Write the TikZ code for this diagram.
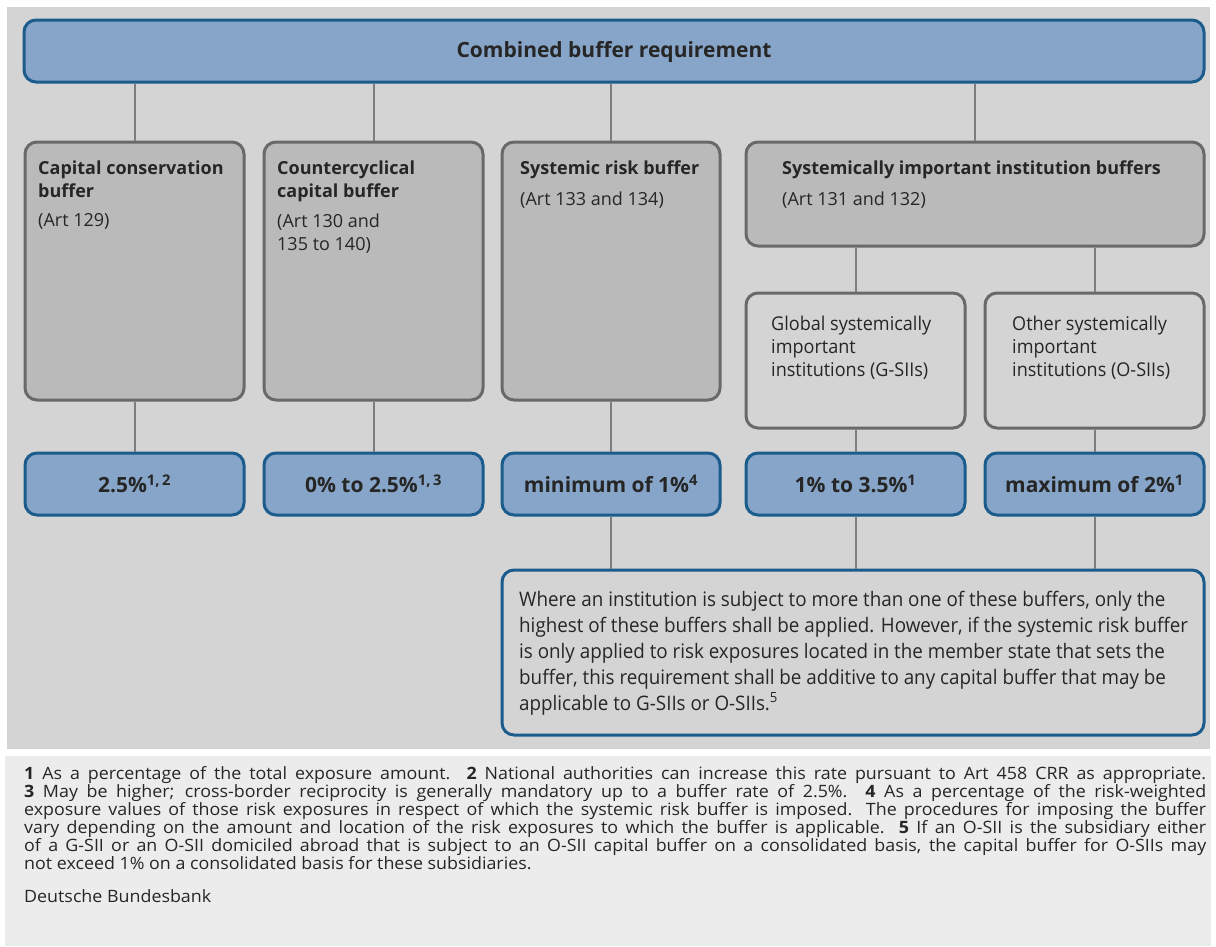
\documentclass[tikz,border=0pt]{standalone}
\usepackage{fontspec}
\setmainfont{Open Sans}
\newfontfamily\condfont[FakeStretch=0.95]{Open Sans}
\newfontfamily\notefont[FakeStretch=0.94]{Open Sans}
\newfontfamily\footfont[FakeStretch=1.05]{Open Sans}
\definecolor{bbBlue}{RGB}{134,165,200}
\definecolor{bbBlueDark}{RGB}{27,92,140}
\definecolor{boxGray}{RGB}{186,186,186}
\definecolor{boxGrayDark}{RGB}{105,105,105}
\definecolor{panelGray}{RGB}{212,212,212}
\definecolor{noteGray}{RGB}{236,236,236}
\definecolor{lineGray}{RGB}{125,125,125}
\definecolor{textDark}{RGB}{38,38,38}

\begin{document}
\begin{tikzpicture}[x = 1pt, y = -1pt, font=\fontsize{16}{20}\selectfont, text = textDark]
	\tikzstyle{blueStyle} = [draw = bbBlueDark, fill = bbBlue, line width = 3pt, rounded corners = 12pt, inner sep = 0pt]
	\tikzstyle{grayStyle} = [draw = boxGrayDark, fill = boxGray, line width = 3pt, rounded corners = 12pt, inner sep = 0pt]
	\tikzstyle{subStyle} = [draw = boxGrayDark, fill = panelGray, line width = 3pt, rounded corners = 12pt, inner sep = 0pt]
	\tikzstyle{noteStyle} = [draw = bbBlueDark, fill = panelGray, line width = 3pt, rounded corners = 12pt, inner sep = 0pt]
	\tikzstyle{lineStyle} = [draw = lineGray, line width = 2pt]
	\tikzstyle{headStyle} = [anchor = north west, inner sep = 0pt, align = left, font = \fontsize{18}{23}\selectfont]
	\tikzstyle{rateStyle} = [font = \fontsize{21}{24}\selectfont\bfseries]
	\tikzstyle{condStyle} = [anchor = north west, inner sep = 0pt, align = left, font = \condfont\fontsize{19}{23}\selectfont]
	\useasboundingbox (0,0) rectangle (1216,946);
	\fill[panelGray] (7,7) rectangle (1210,749);
	\fill[noteGray] (5,756) rectangle (1211,946);
	% top level
	\node[blueStyle, minimum width = 1180pt, minimum height = 62pt] (top) at (614,51) {};
	\node[font = \fontsize{21}{24}\selectfont\bfseries] (topText) at (614,52) {Combined buffer requirement};
	% buffers
	\node[grayStyle, minimum width = 219pt, minimum height = 258pt] (ccb) at (134.5,271) {};
	\node[grayStyle, minimum width = 219pt, minimum height = 258pt] (ccyb) at (373.5,271) {};
	\node[grayStyle, minimum width = 218pt, minimum height = 258pt] (srb) at (611,271) {};
	\node[grayStyle, minimum width = 458pt, minimum height = 104pt] (sii) at (975,194) {};
	\node[headStyle] (ccbText) at (38,161) {\textbf{Capital conservation}\\\textbf{buffer}\\[6pt](Art 129)};
	\node[headStyle] (ccybText) at (277,161) {\textbf{Countercyclical}\\\textbf{capital buffer}\\[7pt](Art 130 and\\135 to 140)};
	\node[headStyle] (srbText) at (520,161) {\textbf{Systemic risk buffer}\\[8pt](Art 133 and 134)};
	\node[headStyle] (siiText) at (782,161) {\textbf{Systemically important institution buffers}\\[8pt](Art 131 and 132)};
	% institutions
	\node[subStyle, minimum width = 219pt, minimum height = 135pt] (gsii) at (855.5,360.5) {};
	\node[subStyle, minimum width = 219pt, minimum height = 135pt] (osii) at (1094.5,360.5) {};
	\node[condStyle] (gsiiText) at (771,316) {Global systemically\\important\\institutions (G-SIIs)};
	\node[condStyle] (osiiText) at (1012,316) {Other systemically\\important\\institutions (O-SIIs)};
	% rates
	\node[blueStyle, minimum width = 219pt, minimum height = 62pt] (p1) at (134.5,484) {};
	\node[blueStyle, minimum width = 219pt, minimum height = 62pt] (p2) at (373.5,484) {};
	\node[blueStyle, minimum width = 218pt, minimum height = 62pt] (p3) at (611,484) {};
	\node[blueStyle, minimum width = 219pt, minimum height = 62pt] (p4) at (855.5,484) {};
	\node[blueStyle, minimum width = 219pt, minimum height = 62pt] (p5) at (1094.5,484) {};
	\node[rateStyle] (p1Text) at (p1) {2.5\%\textsuperscript{1,\,2}};
	\node[rateStyle] (p2Text) at (p2) {0\% to 2.5\%\textsuperscript{1,\,3}};
	\node[rateStyle] (p3Text) at (p3) {minimum of 1\%\textsuperscript{4}};
	\node[rateStyle] (p4Text) at (p4) {1\% to 3.5\%\textsuperscript{1}};
	\node[rateStyle] (p5Text) at (p5) {maximum of 2\%\textsuperscript{1}};
	% note
	\node[noteStyle, minimum width = 702pt, minimum height = 165pt] (note) at (853,652.5) {};
	\node[anchor = north west, inner sep = 0pt, align = left, font = \notefont\fontsize{20}{26}\selectfont] (noteText) at (519,591) {Where an institution is subject to more than one of these buffers, only the\\highest of these buffers shall be applied. However, if the systemic risk buffer\\is only applied to risk exposures located in the member state that sets the\\buffer, this requirement shall be additive to any capital buffer that may be\\applicable to G-SIIs or O-SIIs.\textsuperscript{5}};
	% connectors
	\draw[lineStyle] (top.south -| ccb.north) -- (ccb.north);
	\draw[lineStyle] (top.south -| ccyb.north) -- (ccyb.north);
	\draw[lineStyle] (top.south -| srb.north) -- (srb.north);
	\draw[lineStyle] (top.south -| sii.north) -- (sii.north);
	\draw[lineStyle] (sii.south -| gsii.north) -- (gsii.north);
	\draw[lineStyle] (sii.south -| osii.north) -- (osii.north);
	\draw[lineStyle] (ccb.south) -- (p1.north);
	\draw[lineStyle] (ccyb.south) -- (p2.north);
	\draw[lineStyle] (srb.south) -- (p3.north);
	\draw[lineStyle] (gsii.south) -- (p4.north);
	\draw[lineStyle] (osii.south) -- (p5.north);
	\draw[lineStyle] (p3.south) -- (p3.south |- note.north);
	\draw[lineStyle] (p4.south) -- (p4.south |- note.north);
	\draw[lineStyle] (p5.south) -- (p5.south |- note.north);
	% footnotes
	\node[anchor = north west, inner sep = 0pt, text width = 1182pt, align = justify, font = \footfont\fontsize{17}{18}\selectfont] (footText) at (24,766) {\textbf{1} As a percentage of the total exposure amount. \textbf{2} National authorities can increase this rate pursuant to Art 458 CRR as appropriate.\linebreak \textbf{3} May be higher; cross-border reciprocity is generally mandatory up to a buffer rate of 2.5\%. \textbf{4} As a percentage of the risk-weighted\linebreak exposure values of those risk exposures in respect of which the systemic risk buffer is imposed. The procedures for imposing the buffer\linebreak vary depending on the amount and location of the risk exposures to which the buffer is applicable. \textbf{5} If an O-SII is the subsidiary either\linebreak of a G-SII or an O-SII domiciled abroad that is subject to an O-SII capital buffer on a consolidated basis, the capital buffer for O-SIIs may\linebreak not exceed 1\% on a consolidated basis for these subsidiaries.};
	\node[anchor = north west, inner sep = 0pt, font = \footfont\fontsize{17}{18}\selectfont] (source) at (24,889) {Deutsche Bundesbank};
\end{tikzpicture}
\end{document}
